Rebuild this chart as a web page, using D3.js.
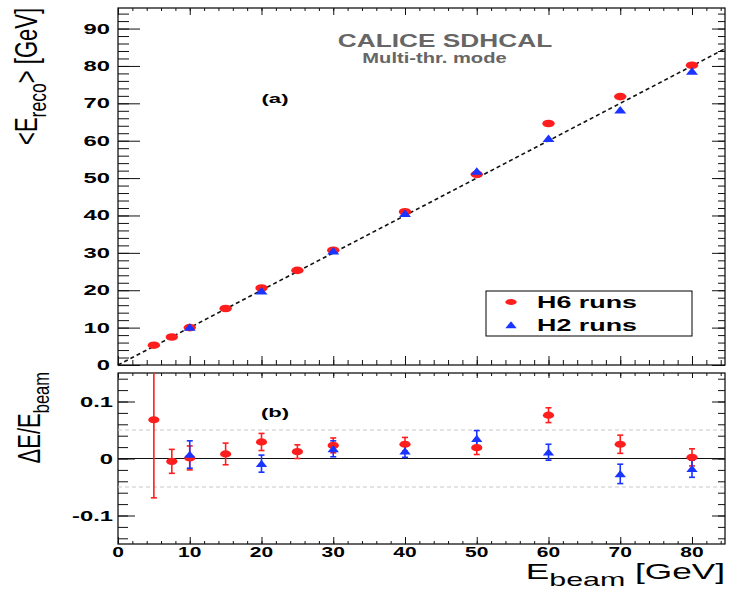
<!DOCTYPE html>
<html>
<head>
<meta charset="utf-8">
<script src="https://cdn.jsdelivr.net/npm/d3@7"></script>
<style>
body{margin:0;background:#fff;}
svg{display:block;font-family:"Liberation Sans",Arial,sans-serif;}
</style>
</head>
<body>
<div id="content"></div>
<script>
const eH6 = [5, 7.5, 10, 15, 20, 25, 30, 40, 50, 60, 70, 80];
const recoH6 = [5.3, 7.5, 10.0, 15.1, 20.6, 25.3, 30.7, 41.0, 51.0, 64.6, 71.8, 80.2];
const devH6 = [0.068, -0.005, 0.001, 0.008, 0.029, 0.012, 0.023, 0.025, 0.019, 0.076, 0.025, 0.002];
const errH6 = [0.137, 0.021, 0.021, 0.019, 0.015, 0.012, 0.013, 0.012, 0.012, 0.013, 0.016, 0.015];
const eH2 = [10, 20, 30, 40, 50, 60, 70, 80];
const recoH2 = [10.1, 19.8, 30.5, 40.5, 51.8, 60.6, 68.2, 78.6];
const devH2 = [0.007, -0.009, 0.017, 0.013, 0.035, 0.011, -0.027, -0.018];
const errH2 = [0.024, 0.015, 0.014, 0.011, 0.014, 0.014, 0.017, 0.015];
const xTicks = [0, 10, 20, 30, 40, 50, 60, 70, 80];
const topTicks = [0, 10, 20, 30, 40, 50, 60, 70, 80, 90];
const botTicks = [-0.1, 0, 0.1];
const botLabels = ["-0.1", "0", "0.1"];

const w = 730, h = 589;
const RED = "#ff1e1e", BLUE = "#1a35ff";
const L = 118, R = 725;

const x = d3.scaleLinear().domain([0, 84.6]).range([L, R]);
const yTop = d3.scaleLinear().domain([0, 95.5]).range([365, 8]);
const yBot = d3.scaleLinear().domain([-0.15, 0.15]).range([544, 373]);

const svg = d3.select("#content").append("svg").attr("width", w).attr("height", h);
svg.append("rect").attr("width", w).attr("height", h).attr("fill", "#fff");

const defs = svg.append("defs");
defs.append("clipPath").attr("id", "clipBot").append("rect")
  .attr("x", L).attr("y", 373).attr("width", R - L).attr("height", 544 - 373);

// stretched text helper (the picture is widened horizontally)
function stext(g, px, py, str, size, sx, anchor, weight, color){
  return g.append("text")
    .attr("transform", `translate(${px},${py}) scale(${sx},1)`)
    .attr("text-anchor", anchor || "start")
    .attr("font-size", size)
    .attr("font-weight", weight || "normal")
    .attr("fill", color || "#000")
    .text(str);
}

function ticks(g, axisFn, scale, vals, size, tx, ty){
  const a = axisFn(scale).tickValues(vals).tickSize(size).tickFormat("");
  const gg = g.append("g").attr("transform", `translate(${tx},${ty})`).call(a);
  gg.select(".domain").remove();
  gg.selectAll("line").attr("stroke", "#111").attr("stroke-width", 1);
}

const minorX = d3.range(0, 85, 2);
const minorTop = d3.range(0, 96, 2);
const minorBot = d3.range(-14, 15, 2).map(d => d / 100);

// ---------- top panel ----------
const topP = svg.append("g");
topP.append("rect").attr("x", L).attr("y", 8).attr("width", R - L).attr("height", 365 - 8)
  .attr("fill", "none").attr("stroke", "#000").attr("stroke-width", 1.2);

ticks(topP, d3.axisLeft, yTop, topTicks, -22, L, 0);
ticks(topP, d3.axisLeft, yTop, minorTop, -11, L, 0);
ticks(topP, d3.axisRight, yTop, topTicks, -13, R, 0);
ticks(topP, d3.axisRight, yTop, minorTop, -7, R, 0);
ticks(topP, d3.axisBottom, x, xTicks, -9, 0, 365);
ticks(topP, d3.axisBottom, x, minorX, -5, 0, 365);
ticks(topP, d3.axisTop, x, xTicks, -7, 0, 8);
ticks(topP, d3.axisTop, x, minorX, -3, 0, 8);

topTicks.forEach(v => stext(topP, 110, yTop(v) + 5, String(v), 14, 1.7, "end", "bold"));

// y = x reference line
topP.append("line")
  .attr("x1", x(0)).attr("y1", yTop(0)).attr("x2", x(84.6)).attr("y2", yTop(84.6))
  .attr("stroke", "#111").attr("stroke-width", 1.6).attr("stroke-dasharray", "4 3");

function tri(cx, cy, s){
  return `M${cx - 6 * s},${cy + 3.5 * s}L${cx + 6 * s},${cy + 3.5 * s}L${cx},${cy - 4 * s}Z`;
}

topP.selectAll(".h6").data(eH6).enter().append("ellipse")
  .attr("cx", d => x(d)).attr("cy", (d, i) => yTop(recoH6[i]))
  .attr("rx", 6.2).attr("ry", 3.8).attr("fill", RED);
topP.selectAll(".h2").data(eH2).enter().append("path")
  .attr("d", (d, i) => tri(x(d), yTop(recoH2[i]), 1)).attr("fill", BLUE);

stext(topP, 445, 46.7, "CALICE SDHCAL", 18.5, 1.42, "middle", "bold", "#666");
stext(topP, 434.5, 63.3, "Multi-thr. mode", 14, 1.44, "middle", "bold", "#666");
stext(topP, 275, 103, "(a)", 13, 1.7, "middle", "bold");

// legend
const leg = topP.append("g");
leg.append("rect").attr("x", 486).attr("y", 291).attr("width", 206).attr("height", 45)
  .attr("fill", "#fff").attr("stroke", "#000").attr("stroke-width", 1);
leg.append("ellipse").attr("cx", 511).attr("cy", 302).attr("rx", 5.7).attr("ry", 3).attr("fill", RED);
leg.append("path").attr("d", tri(511, 325, 0.95)).attr("fill", BLUE);
stext(leg, 537, 308.3, "H6 runs", 17, 1.58, "start", "bold");
stext(leg, 537, 330.7, "H2 runs", 17, 1.58, "start", "bold");

// y title
const yt = topP.append("text")
  .attr("transform", "translate(37,8) scale(1.39,1) rotate(-90)")
  .attr("text-anchor", "end").attr("font-size", 22);
yt.append("tspan").text("<E");
yt.append("tspan").attr("font-size", 17.6).attr("dy", 6.8).text("reco");
yt.append("tspan").attr("dy", -6.8).text("> [GeV]");

// ---------- bottom panel ----------
const bot = svg.append("g");
bot.append("rect").attr("x", L).attr("y", 373).attr("width", R - L).attr("height", 544 - 373)
  .attr("fill", "none").attr("stroke", "#000").attr("stroke-width", 1.2);

ticks(bot, d3.axisLeft, yBot, botTicks, -17, L, 0);
ticks(bot, d3.axisLeft, yBot, minorBot, -10, L, 0);
ticks(bot, d3.axisRight, yBot, botTicks, -13, R, 0);
ticks(bot, d3.axisRight, yBot, minorBot, -7, R, 0);
ticks(bot, d3.axisBottom, x, xTicks, -7, 0, 544);
ticks(bot, d3.axisBottom, x, minorX, -3, 0, 544);
ticks(bot, d3.axisTop, x, xTicks, -5, 0, 373);
ticks(bot, d3.axisTop, x, minorX, -3, 0, 373);

botTicks.forEach((v, i) => stext(bot, 113, yBot(v) + 5, botLabels[i], 14, 1.7, "end", "bold"));
xTicks.forEach(v => stext(bot, x(v), 557, String(v), 14, 1.5, "middle", "bold"));

[0.05, -0.05].forEach(v => bot.append("line")
  .attr("x1", L).attr("x2", R).attr("y1", yBot(v)).attr("y2", yBot(v))
  .attr("stroke", "#c8c8c8").attr("stroke-width", 1).attr("stroke-dasharray", "4 3"));
bot.append("line").attr("x1", L).attr("x2", R).attr("y1", yBot(0)).attr("y2", yBot(0))
  .attr("stroke", "#111").attr("stroke-width", 1.2);

stext(bot, 275, 417, "(b)", 13, 1.7, "middle", "bold");

const pts = bot.append("g").attr("clip-path", "url(#clipBot)");
function errBars(xs, dev, err, color){
  const g = pts.append("g").attr("stroke", color).attr("stroke-width", 1.6);
  xs.forEach((e, i) => {
    const cx = x(e), y1 = yBot(dev[i] + err[i]), y2 = yBot(dev[i] - err[i]);
    g.append("line").attr("x1", cx).attr("x2", cx).attr("y1", y1).attr("y2", y2);
    g.append("line").attr("x1", cx - 3).attr("x2", cx + 3).attr("y1", y1).attr("y2", y1);
    g.append("line").attr("x1", cx - 3).attr("x2", cx + 3).attr("y1", y2).attr("y2", y2);
  });
}
errBars(eH6, devH6, errH6, RED);
errBars(eH2, devH2, errH2, BLUE);
pts.selectAll(".h6").data(eH6).enter().append("ellipse")
  .attr("cx", d => x(d)).attr("cy", (d, i) => yBot(devH6[i]))
  .attr("rx", 5.6).attr("ry", 3.6).attr("fill", RED);
pts.selectAll(".h2").data(eH2).enter().append("path")
  .attr("d", (d, i) => tri(x(d), yBot(devH2[i]), 0.95)).attr("fill", BLUE);

// bottom y title
const yb = bot.append("text")
  .attr("transform", "translate(40,372) scale(1.39,1) rotate(-90)")
  .attr("text-anchor", "end").attr("font-size", 22);
yb.append("tspan").text("\u0394E/E");
yb.append("tspan").attr("font-size", 16.5).attr("dy", 6.8).text("beam");

// x title
const xt = bot.append("text")
  .attr("transform", "translate(725,579) scale(1.6,1)")
  .attr("text-anchor", "end").attr("font-size", 22);
xt.append("tspan").text("E");
xt.append("tspan").attr("font-size", 19).attr("dy", 7).text("beam");
xt.append("tspan").attr("dy", -7).text(" [GeV]");
</script>
</body>
</html>
